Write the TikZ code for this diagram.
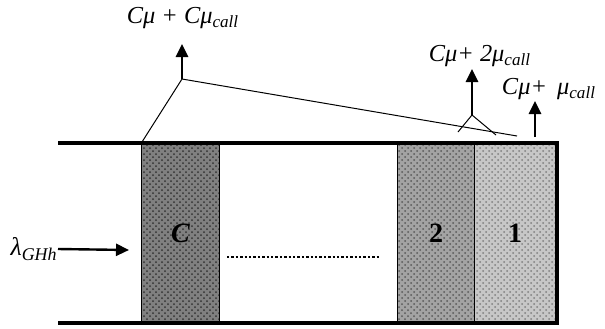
\documentclass[tikz,border=0pt]{standalone}
\usepackage{fontspec}
\setmainfont{Liberation Serif}
\usetikzlibrary{arrows.meta,patterns}
\begin{document}
\begin{tikzpicture}[x=0.5pt,y=-0.5pt,
  wall/.style={line width=2pt,line cap=butt,line join=miter},
  thin/.style={line width=0.5pt},
  uparrow/.style={line width=1.4pt,-{Triangle[length=6.5pt,width=6pt]}},
  cell/.style={minimum width=38.5pt,minimum height=90pt,inner sep=0pt,font=\bfseries\fontsize{14}{16}\selectfont},
  lbl/.style={font=\itshape\fontsize{12.2}{14}\selectfont,inner sep=0pt}]
\useasboundingbox (0,0) rectangle (605,328);
% cells
\node[cell,fill=black!50,postaction={pattern=crosshatch dots,pattern color=black!80}] (cC) at (180.5,233) {\textit{C}};
\node[cell,fill=black!36,postaction={pattern=crosshatch dots,pattern color=black!65}] (c2) at (436,233) {2};
\node[cell,minimum width=40pt,fill=black!22,postaction={pattern=crosshatch dots,pattern color=black!50}] (c1) at (515,233) {1};
\draw[thin] (cC.north west) -- (cC.south west) (cC.north east) -- (cC.south east);
\draw[thin] (c2.north west) -- (c2.south west) (c2.north east) -- (c2.south east);
% walls
\coordinate (tl) at (58,142.5);
\coordinate (tr) at (557,142.5);
\coordinate (br) at (557,323);
\coordinate (bl) at (58,323);
\draw[wall] (tl) -- (tr) -- (br) -- (bl);
% input
\node[font=\fontsize{12.8}{14}\selectfont,inner sep=0pt,anchor=east] (lam) at (58,249) {\textit{λ}\textsubscript{\textit{GHh}}};
\coordinate (inend) at (129,250);
\draw[line width=1.2pt,-{Triangle[length=6.5pt,width=6pt]}] (lam.east) -- (inend);
% dotted
\coordinate (d1) at (227,257);
\coordinate (d2) at (380,257);
\draw[line width=1.1pt,dash pattern=on 1.2pt off 1pt] (d1) -- (d2);
% top C output
\coordinate (apC) at (182,79);
\coordinate (tipC) at (182,44);
\coordinate (endC) at (517,136);
\draw[thin] (cC.north west) -- (apC) -- (endC);
\draw[uparrow] (apC) -- (tipC);
\node[lbl] (labC) at (183,18) {Cμ + Cμ\textsubscript{call}};
% 2 output
\coordinate (ap2) at (472,115);
\coordinate (tip2) at (472,69);
\coordinate (l2) at (458,132);
\coordinate (r2) at (496,135);
\draw[thin] (l2) -- (ap2) -- (r2);
\draw[uparrow] (ap2) -- (tip2);
\node[lbl] (lab2) at (480,56) {Cμ+ 2μ\textsubscript{call}};
% 1 output
\coordinate (ap1) at (535,137);
\coordinate (tip1) at (535,101);
\draw[uparrow] (ap1) -- (tip1);
\node[lbl] (lab1) at (549,89) {Cμ+ \,μ\textsubscript{call}};
\end{tikzpicture}
\end{document}
